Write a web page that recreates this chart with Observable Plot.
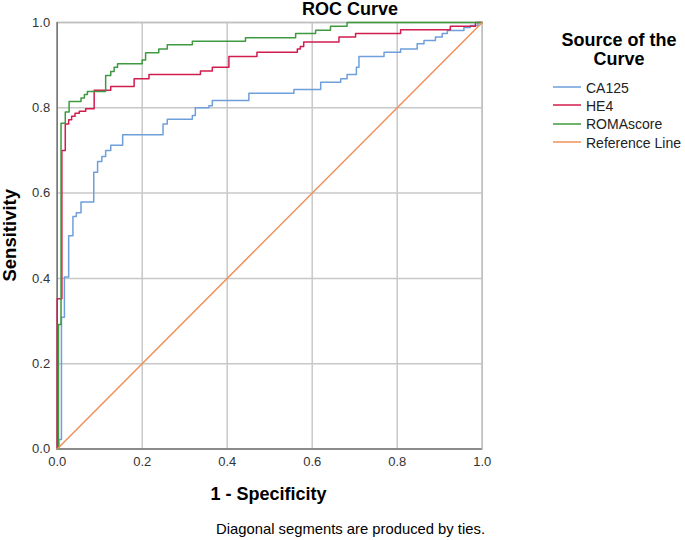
<!DOCTYPE html>
<html>
<head>
<meta charset="utf-8">
<script src="https://cdn.jsdelivr.net/npm/d3@7"></script>
<script src="https://cdn.jsdelivr.net/npm/@observablehq/plot@0.6"></script>
<style>
  html, body { margin: 0; padding: 0; background: #fff; }
  #wrap { position: relative; width: 685px; height: 540px; font-family: "Liberation Sans", Arial, sans-serif; color: #000; overflow: hidden; }
  .t { position: absolute; line-height: 1; white-space: nowrap; }
  .b { font-weight: bold; }
</style>
</head>
<body>
<div id="wrap"></div>
<script>
// ---- data (1 - specificity, sensitivity) ----
const ca125X = [0, 0.004, 0.010, 0.017, 0.027, 0.037, 0.045, 0.056, 0.086, 0.095, 0.105, 0.114, 0.126, 0.154, 0.249, 0.259, 0.318, 0.325, 0.357, 0.365, 0.451, 0.557, 0.620, 0.667, 0.682, 0.704, 0.710, 0.769, 0.808, 0.847, 0.863, 0.890, 0.906, 0.918, 0.957, 0.972, 0.990, 1];
const ca125Y = [0, 0.022, 0.309, 0.403, 0.500, 0.545, 0.554, 0.579, 0.649, 0.674, 0.686, 0.700, 0.712, 0.737, 0.762, 0.773, 0.782, 0.800, 0.805, 0.817, 0.834, 0.843, 0.860, 0.868, 0.878, 0.895, 0.920, 0.930, 0.938, 0.950, 0.958, 0.966, 0.974, 0.981, 0.988, 0.993, 1.000, 1];

const he4X = [0, 0, 0.011, 0.019, 0.027, 0.034, 0.042, 0.052, 0.067, 0.087, 0.126, 0.181, 0.216, 0.337, 0.365, 0.404, 0.470, 0.565, 0.572, 0.580, 0.663, 0.702, 0.808, 0.925, 0.984, 1];
const he4Y = [0, 0.352, 0.700, 0.762, 0.772, 0.780, 0.787, 0.792, 0.798, 0.841, 0.850, 0.868, 0.878, 0.886, 0.895, 0.920, 0.930, 0.938, 0.944, 0.954, 0.966, 0.974, 0.983, 0.991, 1.000, 1];

const romaX = [0, 0.003, 0.009, 0.019, 0.028, 0.056, 0.064, 0.071, 0.114, 0.126, 0.134, 0.142, 0.200, 0.208, 0.239, 0.259, 0.318, 0.443, 0.561, 0.608, 0.643, 0.682, 1];
const romaY = [0, 0.292, 0.764, 0.790, 0.815, 0.823, 0.831, 0.838, 0.876, 0.885, 0.895, 0.903, 0.912, 0.929, 0.938, 0.948, 0.956, 0.964, 0.974, 0.982, 0.991, 1.000, 1];

const refX = [0, 1];
const refY = [0, 1];

const seriesNames = ["CA125", "HE4", "ROMAscore", "Reference Line"];
const seriesColors = ["#6f9fdb", "#d11d4e", "#3e9a3e", "#f0905a"];
const tickValues = [0, 0.2, 0.4, 0.6, 0.8, 1.0];

const toRows = (xs, ys, name) => xs.map((x, i) => ({x, y: ys[i], series: name}));
const curves = [
  toRows(ca125X, ca125Y, "CA125"),
  toRows(he4X, he4Y, "HE4"),
  toRows(romaX, romaY, "ROMAscore")
];
const ref = toRows(refX, refY, "Reference Line");
const color = name => seriesColors[seriesNames.indexOf(name)];

const W = 685, H = 540;
const chart = Plot.plot({
  width: W, height: H,
  marginLeft: 56.7, marginRight: 203.3, marginTop: 22, marginBottom: 91.5,
  style: {fontFamily: '"Liberation Sans", Arial, sans-serif', fontSize: "13px", background: "#fff", color: "#333"},
  x: {domain: [0, 1], ticks: tickValues, tickFormat: d3.format(".1f"), tickSize: 0, tickPadding: 8, label: null},
  y: {domain: [0, 1], ticks: tickValues, tickFormat: d3.format(".1f"), tickSize: 0, tickPadding: 7, label: null},
  marks: [
    Plot.gridX(tickValues, {stroke: "#c8c8c8", strokeOpacity: 1, strokeWidth: 1.5}),
    Plot.gridY(tickValues, {stroke: "#c8c8c8", strokeOpacity: 1, strokeWidth: 1.5}),
    Plot.frame({stroke: "#c0c0c0", strokeWidth: 1.5}),
    Plot.ruleX([0], {stroke: "#777", strokeWidth: 1.5}),
    Plot.ruleY([0], {stroke: "#777", strokeWidth: 1.5}),
    ...curves.map(rows => Plot.line(rows, {x: "x", y: "y", curve: "step-after", stroke: color(rows[0].series), strokeWidth: 1.5})),
    Plot.line(ref, {x: "x", y: "y", stroke: color("Reference Line"), strokeWidth: 1.5}),
    Plot.axisX({ticks: tickValues, tickFormat: d3.format(".1f"), tickSize: 0, tickPadding: 8, label: null, fill: "#333"}),
    Plot.axisY({ticks: tickValues, tickFormat: d3.format(".1f"), tickSize: 0, tickPadding: 7, label: null, fill: "#333"})
  ]
});

const wrap = document.getElementById("wrap");
chart.style.position = "absolute";
chart.style.left = "0px";
chart.style.top = "0px";
wrap.appendChild(chart);

function addText(txt, opts) {
  const d = document.createElement("div");
  d.className = "t" + (opts.bold ? " b" : "");
  d.textContent = txt;
  d.style.fontSize = opts.size + "px";
  d.style.top = (opts.cy - opts.size / 2) + "px";
  if (opts.align === "center") {
    d.style.left = opts.x + "px";
    d.style.transform = "translateX(-50%)" + (opts.rotate ? " rotate(-90deg)" : "");
  } else if (opts.align === "right") {
    d.style.right = (W - opts.x) + "px";
  } else {
    d.style.left = opts.x + "px";
  }
  wrap.appendChild(d);
  return d;
}

addText("ROC Curve", {size: 18, bold: true, x: 350, cy: 9, align: "center"});
addText("1 - Specificity", {size: 18, bold: true, x: 268.5, cy: 494, align: "center"});
addText("Diagonal segments are produced by ties.", {size: 14.8, x: 485, cy: 529, align: "right"});
// rotated y label
addText("Sensitivity", {size: 18.5, bold: true, x: 10, cy: 235, align: "center", rotate: true});

// legend
addText("Source of the", {size: 18, bold: true, x: 619, cy: 40, align: "center"});
addText("Curve", {size: 18, bold: true, x: 619, cy: 58.5, align: "center"});
const legendY = [87, 105, 123.5, 142];
seriesNames.forEach((name, i) => {
  const sw = document.createElement("div");
  sw.style.position = "absolute";
  sw.style.left = "553px";
  sw.style.width = "28px";
  sw.style.height = "2px";
  sw.style.top = (legendY[i] - 1) + "px";
  sw.style.background = seriesColors[i];
  sw.style.opacity = "0.75";
  wrap.appendChild(sw);
  addText(name, {size: 14, x: 586, cy: legendY[i] + 0.5, align: "left"}).style.color = "#222";
});
</script>
</body>
</html>
